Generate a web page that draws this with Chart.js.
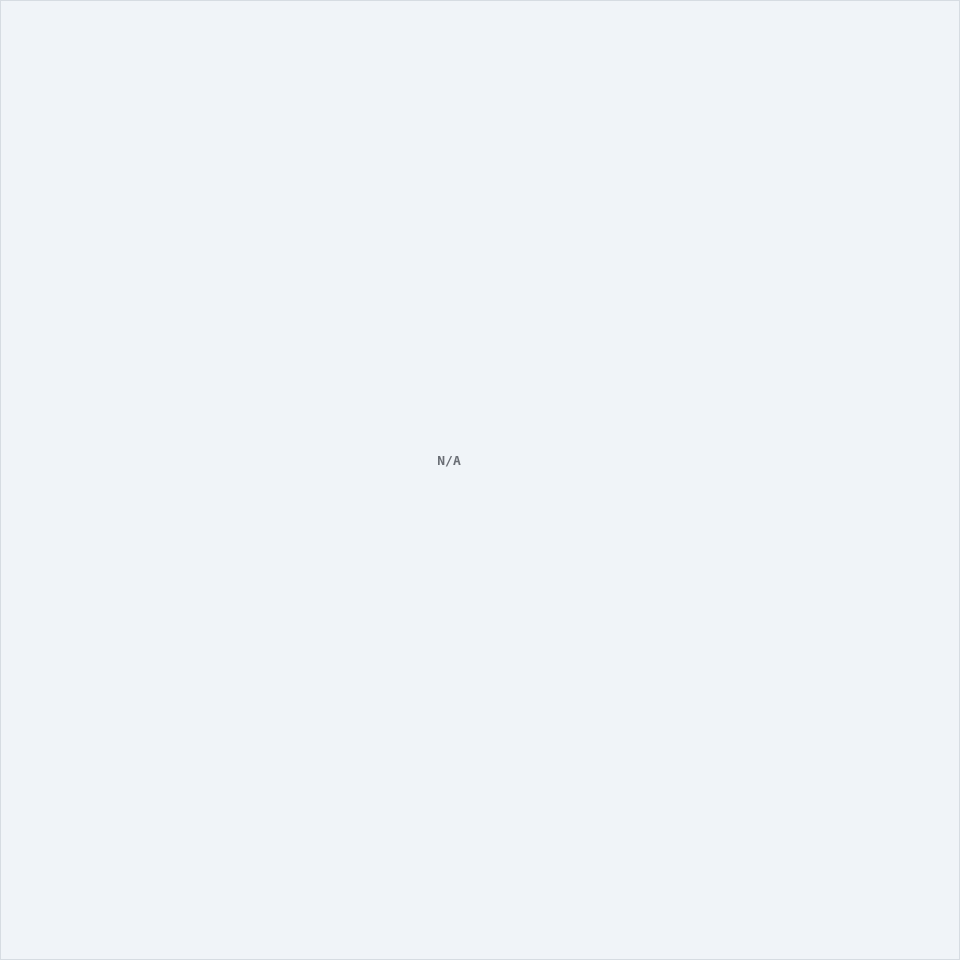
<!DOCTYPE html>
<html>
<head>
<meta charset="utf-8">
<script src="https://cdn.jsdelivr.net/npm/chart.js@4"></script>
<style>
  html, body { margin: 0; padding: 0; background: #f0f4f8; }
  #wrap { width: 958px; height: 958px; border: 1px solid #d6dce2; position: relative; }
</style>
</head>
<body>
<div id="wrap"><canvas id="chart"></canvas></div>
<script>
// no data in the source chart: it shows only "N/A"
const categories = [];
const values = [];
const emptyText = 'N/A';

// draws the placeholder text when there is nothing to plot
const noDataPlugin = {
    id: 'noData',
    afterDraw(chart) {
        const hasData = chart.data.datasets.some(ds => ds.data.length > 0);
        if (hasData) return;
        const ctx = chart.ctx;
        ctx.save();
        ctx.font = '600 13px "DejaVu Sans Mono", monospace';
        ctx.fillStyle = '#6a6e75';
        ctx.textAlign = 'center';
        ctx.textBaseline = 'middle';
        // placeholder sits a little up-left of the exact middle
        ctx.fillText(emptyText, chart.width / 2 - 31, chart.height / 2 - 18);
        ctx.restore();
    }
};

new Chart(document.getElementById('chart'), {
    type: 'bar',
    data: {
        labels: categories,
        datasets: [{ label: '', data: values }]
    },
    options: {
        responsive: true,
        maintainAspectRatio: false,
        animation: false,
        plugins: { legend: { display: false }, tooltip: { enabled: false } },
        scales: { x: { display: false }, y: { display: false } }
    },
    plugins: [noDataPlugin]
});
</script>
</body>
</html>
